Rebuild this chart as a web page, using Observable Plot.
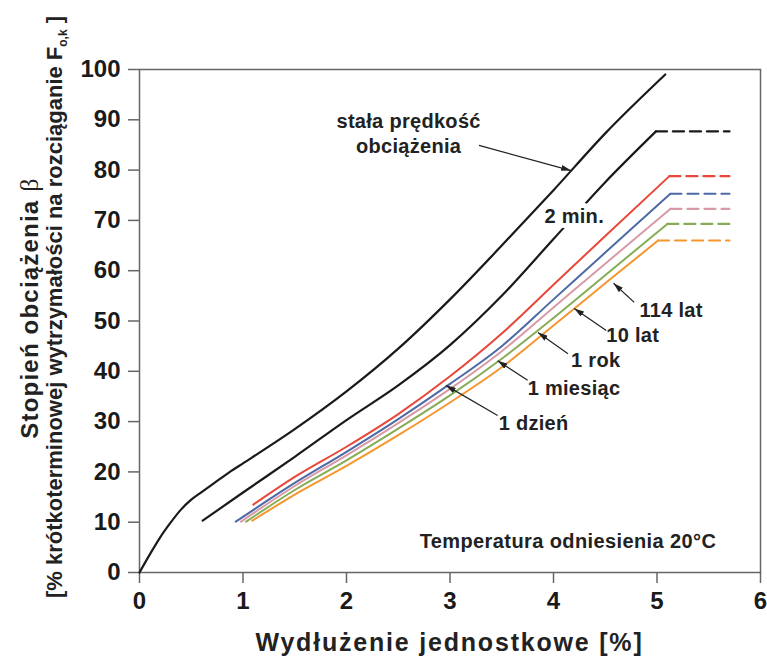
<!DOCTYPE html>
<html><head><meta charset="utf-8">
<script src="https://cdn.jsdelivr.net/npm/d3@7"></script>
<script src="https://cdn.jsdelivr.net/npm/@observablehq/plot@0.6"></script>
<style>body{margin:0;background:#fff} svg{display:block}</style>
</head><body><div id="chart"></div>
<script>
// ---- data ----
const xTicks = [0, 1, 2, 3, 4, 5, 6];
const yTicks = [0, 10, 20, 30, 40, 50, 60, 70, 80, 90, 100];

const constRateX = [0, 0.1, 0.2, 0.3, 0.4, 0.5, 0.6, 0.75, 0.88, 1.0, 1.5, 2.0, 2.5, 3.0, 3.5, 4.0, 4.5, 5.08];
const constRateY = [0, 3.6, 7.0, 9.9, 12.5, 14.5, 16.0, 18.2, 20.1, 21.7, 28.5, 36, 44.5, 54.3, 65, 76, 87.3, 99];

const min2X = [0.61, 1.0, 1.5, 2.0, 2.5, 3.0, 3.5, 4.0, 4.5, 4.99];
const min2Y = [10.3, 15.9, 23, 30.3, 37.2, 45.2, 55, 66.3, 77.6, 87.7];

const dayX = [1.10, 1.5, 2.0, 2.5, 3.0, 3.5, 4.0, 4.5, 5.12];
const dayY = [13.5, 19, 25, 31.5, 39, 47.5, 57.2, 66.9, 78.8];
const monthX = [0.93, 1.5, 2.0, 2.5, 3.0, 3.5, 4.0, 4.5, 5.13];
const monthY = [10.1, 17.8, 24, 30.5, 37.5, 45, 54.3, 63.6, 75.3];
const yearX = [0.98, 1.5, 2.0, 2.5, 3.0, 3.5, 4.0, 4.5, 5.13];
const yearY = [10.1, 17.2, 23.3, 29.7, 36.5, 44, 52.7, 61.4, 72.3];
const tenX = [1.03, 1.5, 2.0, 2.5, 3.0, 3.5, 4.0, 4.5, 5.10];
const tenY = [10.1, 16.4, 22.3, 28.6, 35.2, 42.5, 50.6, 59.1, 69.3];
const oldX = [1.09, 1.5, 2.0, 2.5, 3.0, 3.5, 4.0, 4.5, 5.01];
const oldY = [10.3, 15.5, 21.2, 27.3, 33.8, 40.8, 49.1, 57.5, 66.0];

const plateauEndX = 5.7;

const labelNames = ["114 lat", "10 lat", "1 rok", "1 miesiąc", "1 dzień"];
const labelX = [4.83, 4.51, 4.17, 3.75, 3.47];
const labelY = [52.1, 47.1, 42.1, 36.6, 29.6];
const arrowX1 = [4.78, 4.51, 4.14, 3.75, 3.46];
const arrowY1 = [53.7, 48.1, 43.5, 38.2, 31.2];
const arrowX2 = [4.58, 4.20, 3.85, 3.46, 2.96];
const arrowY2 = [57.5, 52.5, 47.7, 42.1, 37.2];

const constRateLabel = ["stała prędkość", "obciążenia"];
const constRateLabelX = 2.60;
const constRateLabelY = [89.7, 84.7];
const constRateArrow = {x1: 3.28, y1: 84.9, x2: 4.17, y2: 79.9};
const min2Label = "2 min.";
const min2LabelPos = {x: 4.20, y: 70.8};
const tempLabel = "Temperatura odniesienia 20°C";
const tempLabelPos = {x: 4.14, y: 6.2};

const xTitle = "Wydłużenie jednostkowe [%]";
const yTitle1 = "Stopień obciążenia ";
const yTitleBeta = "β";
const yTitle2 = "[% krótkoterminowej wytrzymałości na rozciąganie F";
const yTitleSub = "o,k";
const yTitle2End = " ]";

// ---- build ----
const pts = (xs, ys) => xs.map((x, i) => ({x, y: ys[i]}));
const plateau = (xs, ys) => [{x: xs[xs.length - 1], y: ys[ys.length - 1]}, {x: plateauEndX, y: ys[ys.length - 1]}];

const FONT = "'Liberation Sans', Arial, Helvetica, sans-serif";
const colored = [
  {xs: dayX, ys: dayY, c: "#e8473a"},
  {xs: monthX, ys: monthY, c: "#4d6aa6"},
  {xs: yearX, ys: yearY, c: "#d89aa6"},
  {xs: tenX, ys: tenY, c: "#86ad55"},
  {xs: oldX, ys: oldY, c: "#f5962f"}
];

const labels = labelNames.map((t, i) => ({t, x: labelX[i], y: labelY[i]}));
const arrows = labelNames.map((t, i) => ({x1: arrowX1[i], y1: arrowY1[i], x2: arrowX2[i], y2: arrowY2[i]}));
arrows.push(constRateArrow);

const marks = [
  Plot.frame({stroke: "#666", strokeWidth: 1.5}),
  Plot.axisX({ticks: xTicks, tickSize: 11, tickPadding: 8, tickFormat: d => d, fontSize: 24, fontWeight: "bold", label: null, stroke: "#666", strokeWidth: 1.5, fill: "#1a1a1a"}),
  Plot.axisY({ticks: yTicks, tickSize: 11, tickPadding: 8, tickFormat: d => d, fontSize: 24, fontWeight: "bold", label: null, stroke: "#666", strokeWidth: 1.5, fill: "#1a1a1a"}),
  Plot.line(pts(constRateX, constRateY), {x: "x", y: "y", stroke: "#1a1a1a", strokeWidth: 2.2, curve: "monotone-x"}),
  Plot.line(pts(min2X, min2Y), {x: "x", y: "y", stroke: "#1a1a1a", strokeWidth: 2.2, curve: "monotone-x"}),
  Plot.line(plateau(min2X, min2Y), {x: "x", y: "y", stroke: "#1a1a1a", strokeWidth: 2.4, strokeDasharray: "11,6"})
];
for (const s of colored) {
  marks.push(Plot.line(pts(s.xs, s.ys), {x: "x", y: "y", stroke: s.c, strokeWidth: 2, curve: "monotone-x"}));
  marks.push(Plot.line(plateau(s.xs, s.ys), {x: "x", y: "y", stroke: s.c, strokeWidth: 2.2, strokeDasharray: "11,6"}));
}
marks.push(
  Plot.link(arrows, {x1: "x1", y1: "y1", x2: "x2", y2: "y2", stroke: "#222", strokeWidth: 1.2}),
  Plot.text(labels, {x: "x", y: "y", text: "t", textAnchor: "start", fontSize: 20, fontWeight: "bold", fill: "#222"}),
  Plot.text(constRateLabel.map((t, i) => ({t, y: constRateLabelY[i]})), {x: () => constRateLabelX, y: "y", text: "t", fontSize: 20, fontWeight: "bold", fill: "#222"}),
  Plot.text([min2LabelPos], {x: "x", y: "y", text: () => min2Label, fontSize: 20, fontWeight: "bold", fill: "#222", stroke: "white", strokeWidth: 10}),
  Plot.text([tempLabelPos], {x: "x", y: "y", text: () => tempLabel, fontSize: 20, fontWeight: "bold", fill: "#222"})
);

const chart = Plot.plot({
  width: 767, height: 663,
  marginLeft: 139, marginRight: 7, marginTop: 69, marginBottom: 91,
  x: {domain: [0, 6]},
  y: {domain: [0, 100]},
  style: {fontFamily: FONT, background: "white", overflow: "visible"},
  marks
});

const svg = d3.select(chart);
// filled arrowheads
const defs = svg.append("defs");
defs.append("marker").attr("id", "ah").attr("viewBox", "0 0 10 6").attr("refX", 10).attr("refY", 3)
  .attr("markerWidth", 10).attr("markerHeight", 6).attr("markerUnits", "userSpaceOnUse").attr("orient", "auto")
  .append("path").attr("d", "M0,0L10,3L0,6z").attr("fill", "#222");
svg.selectAll('g[aria-label="link"] path, g[aria-label="link"] line').attr("marker-end", "url(#ah)");
svg.selectAll('g[aria-label="text"] text').attr("letter-spacing", 0.3);
svg.selectAll('g[aria-label="text"]').filter((d, i, n) => n[i].textContent.includes("Temperatura")).selectAll("text").attr("letter-spacing", 0.4);

// axis titles
svg.append("text").attr("x", 449.5).attr("y", 651).attr("text-anchor", "middle")
  .attr("font-family", FONT).attr("font-size", 25).attr("font-weight", "bold").attr("letter-spacing", 1.8).attr("fill", "#222").text(xTitle);

const yt1 = svg.append("text").attr("transform", "translate(38,308) rotate(-90)").attr("text-anchor", "middle")
  .attr("font-family", FONT).attr("font-size", 24).attr("font-weight", "bold").attr("letter-spacing", 1.2).attr("fill", "#222");
yt1.append("tspan").text(yTitle1);
yt1.append("tspan").attr("font-family", "'Liberation Serif', 'DejaVu Serif', serif").attr("font-weight", "normal").attr("font-size", 26).text(yTitleBeta);

const yt2 = svg.append("text").attr("transform", "translate(62,307) rotate(-90)").attr("text-anchor", "middle")
  .attr("font-family", FONT).attr("font-size", 22).attr("font-weight", "bold").attr("fill", "#222");
yt2.append("tspan").text(yTitle2);
yt2.append("tspan").attr("font-size", 12).attr("dy", 5).text(yTitleSub);
yt2.append("tspan").attr("dy", -5).text(yTitle2End);

document.getElementById("chart").appendChild(chart);
</script></body></html>
